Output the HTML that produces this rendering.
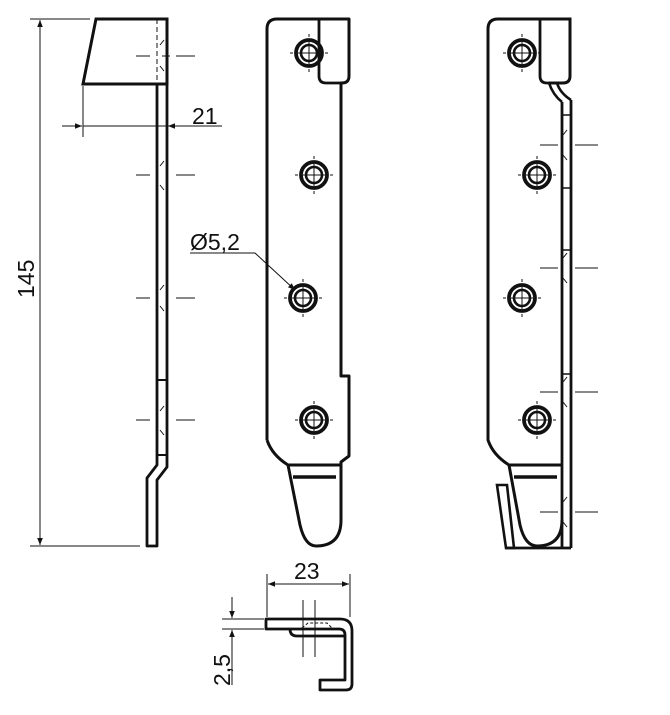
<!DOCTYPE html>
<html><head><meta charset="utf-8"><style>
html,body{margin:0;padding:0;background:#fff}
svg{display:block}
text{font-family:"Liberation Sans",sans-serif;fill:#111}
</style></head><body>
<svg width="670" height="715" viewBox="0 0 670 715" xmlns="http://www.w3.org/2000/svg">
<defs>
<marker id="ar" viewBox="0 0 10 10" refX="10" refY="5" markerWidth="11" markerHeight="7" orient="auto-start-reverse" markerUnits="userSpaceOnUse"><path d="M0,1 L10,5 L0,9 Z" fill="#111"/></marker>
<g id="hole">
<circle r="13" fill="none" stroke="#111" stroke-width="3.8"/>
<circle r="8" fill="none" stroke="#111" stroke-width="2.6"/>
<path d="M-19,0 H-16 M-11,0 H11 M16,0 H19 M0,-19 V-16 M0,-11 V11 M0,16 V19" stroke="#111" stroke-width="1"/>
</g>
</defs>
<g fill="none" stroke="#111">
<!-- LEFT VIEW -->
<path d="M96,19 H167 V84 H83 Z" stroke-width="3"/>
<path d="M157,84 V465 L147,478 V546 H157 V480 L167,467 V84" stroke-width="2.8" stroke-linejoin="round"/>
<path d="M157,19 V84" stroke-width="1" stroke-dasharray="5,3"/>
<path d="M157,380 H167" stroke-width="2"/>
<path d="M157,455 H167" stroke-width="2"/>
<g stroke-width="1">
<path d="M136,56 H150 M162,56 H170 M176,56 H195"/>
<path d="M136,175 H150 M176,175 H195"/>
<path d="M136,298 H150 M176,298 H195"/>
<path d="M136,420 H150 M176,420 H195"/>
<path d="M160,45 l4,-5 M160,66 l4,5 M160,166 l4,-5 M160,185 l4,5 M160,290 l4,-5 M160,306 l4,5 M160,411 l4,-5 M160,430 l4,5"/>
<path d="M30,19 H90 M30,546 H140"/>
<path d="M40,272 V20" marker-end="url(#ar)"/>
<path d="M40,272 V545" marker-end="url(#ar)"/>
<path d="M83,86 V137"/>
<path d="M62,126 H82" marker-end="url(#ar)"/>
<path d="M83,126 H167"/>
<path d="M222,126 H168" marker-end="url(#ar)"/>
</g>

<!-- MIDDLE VIEW -->
<path d="M267,440 V29 Q267,19 277,19 H349 V76 Q349,83 342,83 H341 V376 H349 V456 L341,462 V465 H288 Q272,455 267,440" stroke-width="3" stroke-linejoin="round"/>
<path d="M319,19 V76 Q319,83 326,83 H342" stroke-width="2.8"/>
<path d="M288,465 L300,525 Q305,546 316,546 Q341,546 341,520 V465" stroke-width="3"/>
<path d="M293,477 H336" stroke-width="3.4"/>

<!-- RIGHT VIEW -->
<path d="M488,29 Q488,19 498,19 H570 V76 Q570,83 563,83 H549" stroke-width="3"/>
<path d="M540,19 V76 Q540,83 547,83 H551" stroke-width="2.8"/>
<path d="M488,29 V440 Q493,455 509,465 H562" stroke-width="3"/>
<path d="M549,83 Q553,95 562,102 M557,83 Q560,93 571,100" stroke-width="2.6"/>
<path d="M562,102 V548 M571,100 V548 M505,548 H571" stroke-width="2.8"/>
<path d="M509,465 L520,525 Q525,546 537,546 Q562,546 562,520" stroke-width="3"/>
<path d="M514,477 H557" stroke-width="3.4"/>
<path d="M497,485 H507 L514,548 H506 Z" stroke-width="2.6"/>
<g stroke-width="1">
<path d="M540,145 H558 M575,145 H598"/>
<path d="M540,268 H558 M575,268 H598"/>
<path d="M540,392 H558 M575,392 H598"/>
<path d="M540,512 H558 M575,512 H598"/>
<path d="M562,115 H571 M562,188 H571 M562,250 H571 M562,374 H571" stroke-width="1.5"/>
<path d="M563,135 l4,-5 M563,155 l4,5 M563,258 l4,-5 M563,278 l4,5 M563,382 l4,-5 M563,402 l4,5 M563,502 l4,-5 M563,522 l4,5"/>
</g>

<path d="M190,253 H255 L295,290" stroke-width="1" marker-end="url(#ar)"/>

<!-- BOTTOM VIEW -->
<path d="M266,619 H340 Q352,619 352,631 V684 Q352,690 346,690 H320 V680 H345 V635 Q345,629 339,629 H266 Z" stroke-width="2.8" stroke-linejoin="round"/>
<path d="M290,629 Q290,636 297,636 H345" stroke-width="2.8"/>
<path d="M302,628 l6,-5 H327 l5,5" stroke-width="1" stroke-dasharray="3,2"/>
<g stroke-width="1">
<path d="M303,600 V657 M315,600 V657"/>
<path d="M267,574 V617 M350,574 V617"/>
<path d="M308,584 H268" marker-end="url(#ar)"/>
<path d="M308,584 H349" marker-end="url(#ar)"/>
<path d="M222,619 H264 M222,629 H264"/>
<path d="M232,597 V618" marker-end="url(#ar)"/>
<path d="M232,685 V630" marker-end="url(#ar)"/>
</g>
</g>
<use href="#hole" x="309" y="53"/>
<use href="#hole" x="314" y="175"/>
<use href="#hole" x="303" y="298"/>
<use href="#hole" x="314" y="420"/>
<use href="#hole" x="522" y="53"/>
<use href="#hole" x="537" y="175"/>
<use href="#hole" x="522" y="298"/>
<use href="#hole" x="537" y="420"/>

<text x="192" y="124" font-size="23">21</text>
<text transform="translate(34,298) rotate(-90)" font-size="23">145</text>
<text x="190" y="250" font-size="23">Ø5,2</text>
<text x="294" y="579" font-size="23">23</text>
<text transform="translate(230,686) rotate(-90)" font-size="23">2,5</text>
</svg>
</body></html>
